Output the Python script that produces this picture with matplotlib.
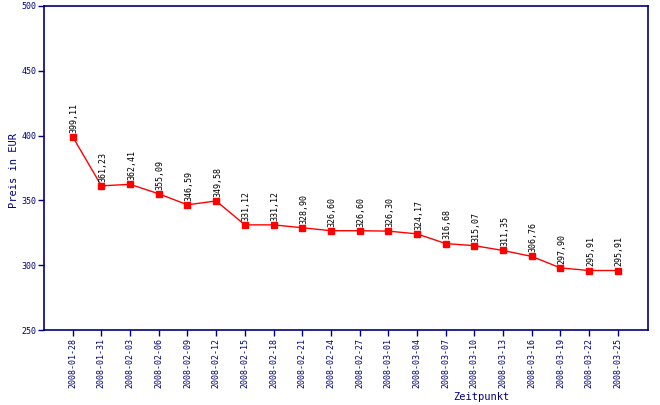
import matplotlib
matplotlib.use("Agg")
import matplotlib.pyplot as plt

dates = ["2008-01-28", "2008-01-31", "2008-02-03", "2008-02-06", "2008-02-09",
         "2008-02-12", "2008-02-15", "2008-02-18", "2008-02-21", "2008-02-24",
         "2008-02-27", "2008-03-01", "2008-03-04", "2008-03-07", "2008-03-10",
         "2008-03-13", "2008-03-16", "2008-03-19", "2008-03-22", "2008-03-25"]
prices = [399.11, 361.23, 362.41, 355.09, 346.59, 349.58, 331.12, 331.12, 328.90,
          326.60, 326.60, 326.30, 324.17, 316.68, 315.07, 311.35, 306.76, 297.90,
          295.91, 295.91]
yticks = [250, 300, 350, 400, 450, 500]

navy = "#000080"
mono = "DejaVu Sans Mono"

fig = plt.figure(figsize=(6.6, 4.05), dpi=100)
ax = fig.add_axes([44/660, 1-330/405, (648-44)/660, (330-6)/405])

x = list(range(len(dates)))
ax.plot(x, prices, color="#ff0000", lw=1, marker="s", ms=5, mec="#ff0000", mfc="#ff0000")

for xi, p in zip(x, prices):
    ax.annotate(f"{p:.2f}".replace(".", ","), (xi, p), xytext=(1, 3),
                textcoords="offset points", rotation=90, ha="center", va="bottom",
                fontsize=6, family=mono, color="black")

ax.set_xlim(-1, 20.05)
ax.set_ylim(250, 500)
ax.set_yticks(yticks)
ax.set_yticklabels([str(v) for v in yticks], family=mono, fontsize=6, color=navy)
ax.set_xticks(x)
ax.set_xticklabels(dates, rotation=90, family=mono, fontsize=6, color=navy)
ax.tick_params(axis="both", direction="out", length=4, width=1, color=navy, pad=1.5)

for s in ax.spines.values():
    s.set_color(navy)
    s.set_linewidth(1.2)

fig.text(14/660, 1-170/405, "Preis in EUR", rotation=90, ha="center", va="center",
         family=mono, fontsize=7.5, color=navy)
fig.text(481/660, 1-397/405, "Zeitpunkt", ha="center", va="center",
         family=mono, fontsize=7.5, color=navy)

fig.savefig("out.png", dpi=100)
